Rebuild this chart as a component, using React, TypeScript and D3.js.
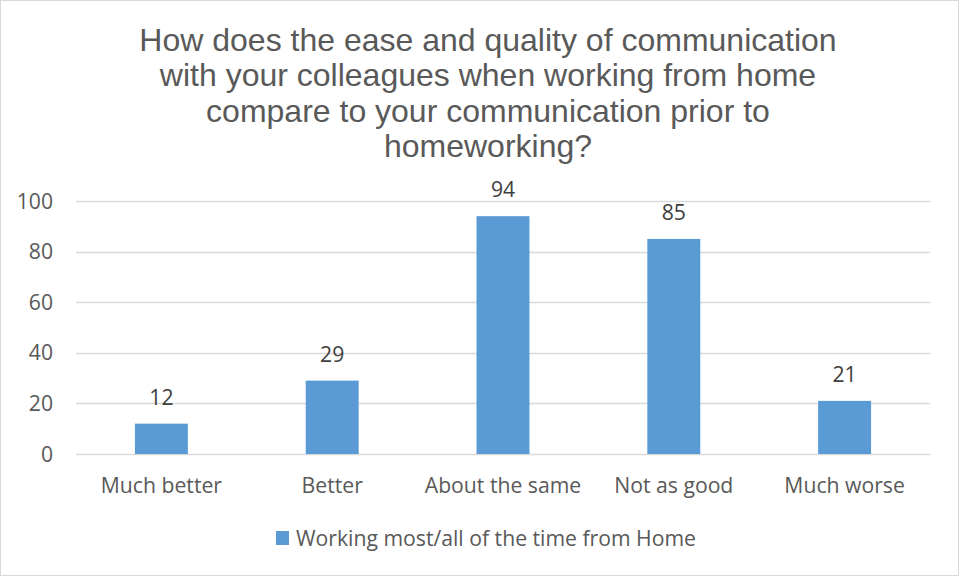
import { useEffect, useRef } from "react";
import * as d3 from "d3";

const CATEGORIES = ["Much better", "Better", "About the same", "Not as good", "Much worse"];
const VALUES = [12, 29, 94, 85, 21];
const Y_TICKS = [0, 20, 40, 60, 80, 100];
const SERIES_NAME = "Working most/all of the time from Home";
const TITLE_LINES = [
  "How does the ease and quality of communication",
  "with your colleagues when working from home",
  "compare to your communication prior to",
  "homeworking?",
];

const WIDTH = 959;
const HEIGHT = 577;
const BAR_COLOR = "#5B9BD5";
const TEXT_COLOR = "#595959";
const LABEL_FONT = "'Open Sans', Lato, sans-serif";
const LABEL_SIZE = 21.2;

export default function App() {
  const ref = useRef<SVGSVGElement | null>(null);

  useEffect(() => {
    if (!ref.current) return;
    document.body.style.margin = "0";

    const svg = d3.select(ref.current);
    svg.selectAll("*").remove();

    const margin = { top: 201, right: 29, bottom: 123, left: 76 };

    const x = d3
      .scaleBand<string>()
      .domain(CATEGORIES)
      .range([margin.left, WIDTH - margin.right])
      .paddingInner(0.69)
      .paddingOuter(0.345);

    const y = d3
      .scaleLinear()
      .domain([0, 100])
      .range([HEIGHT - margin.bottom, margin.top]);

    svg.attr("width", WIDTH).attr("height", HEIGHT).attr("viewBox", `0 0 ${WIDTH} ${HEIGHT}`);

    svg
      .append("rect")
      .attr("x", 0.5)
      .attr("y", 0.5)
      .attr("width", WIDTH - 1)
      .attr("height", HEIGHT - 2)
      .attr("fill", "#fff")
      .attr("stroke", "#d9d9d9");

    // title
    svg
      .append("g")
      .selectAll("text")
      .data(TITLE_LINES)
      .enter()
      .append("text")
      .text((d) => d)
      .attr("x", 488)
      .attr("y", (_, i) => 51 + i * 35.3)
      .attr("text-anchor", "middle")
      .attr("font-family", "'Liberation Sans', Arial, sans-serif")
      .attr("font-size", 32)
      .attr("fill", TEXT_COLOR);

    // gridlines
    svg
      .append("g")
      .selectAll("line")
      .data(Y_TICKS)
      .enter()
      .append("line")
      .attr("x1", margin.left)
      .attr("x2", WIDTH - margin.right)
      .attr("y1", (d) => Math.round(y(d)) + 0.5)
      .attr("y2", (d) => Math.round(y(d)) + 0.5)
      .attr("stroke", "#d9d9d9")
      .attr("stroke-width", 1.3);

    // y labels
    svg
      .append("g")
      .selectAll("text")
      .data(Y_TICKS)
      .enter()
      .append("text")
      .text((d) => d)
      .attr("x", 53)
      .attr("y", (d) => y(d) + 7.5)
      .attr("text-anchor", "end")
      .attr("font-family", LABEL_FONT)
      .attr("font-size", LABEL_SIZE)
      .attr("fill", TEXT_COLOR);

    const data = CATEGORIES.map((c, i) => ({ c, v: VALUES[i] }));

    svg
      .append("g")
      .selectAll("rect")
      .data(data)
      .enter()
      .append("rect")
      .attr("x", (d) => x(d.c) ?? 0)
      .attr("y", (d) => y(d.v))
      .attr("width", x.bandwidth())
      .attr("height", (d) => y(0) - y(d.v))
      .attr("fill", BAR_COLOR);

    // value labels
    svg
      .append("g")
      .selectAll("text")
      .data(data)
      .enter()
      .append("text")
      .text((d) => d.v)
      .attr("x", (d) => (x(d.c) ?? 0) + x.bandwidth() / 2)
      .attr("y", (d) => y(d.v) - 19)
      .attr("text-anchor", "middle")
      .attr("font-family", LABEL_FONT)
      .attr("font-size", LABEL_SIZE)
      .attr("fill", "#404040");

    // category labels
    svg
      .append("g")
      .selectAll("text")
      .data(CATEGORIES)
      .enter()
      .append("text")
      .text((d) => d)
      .attr("x", (d) => (x(d) ?? 0) + x.bandwidth() / 2)
      .attr("y", y(0) + 39)
      .attr("text-anchor", "middle")
      .attr("font-family", LABEL_FONT)
      .attr("font-size", LABEL_SIZE)
      .attr("fill", TEXT_COLOR);

    // legend
    const legend = svg.append("g").attr("transform", "translate(276,531)");
    legend.append("rect").attr("width", 13).attr("height", 14).attr("fill", BAR_COLOR);
    legend
      .append("text")
      .text(SERIES_NAME)
      .attr("x", 20)
      .attr("y", 15)
      .attr("font-family", LABEL_FONT)
      .attr("font-size", LABEL_SIZE)
      .attr("fill", TEXT_COLOR);
  }, []);

  return (
    <div style={{ position: "absolute", left: 0, top: 0 }}>
      <svg ref={ref} />
    </div>
  );
}
